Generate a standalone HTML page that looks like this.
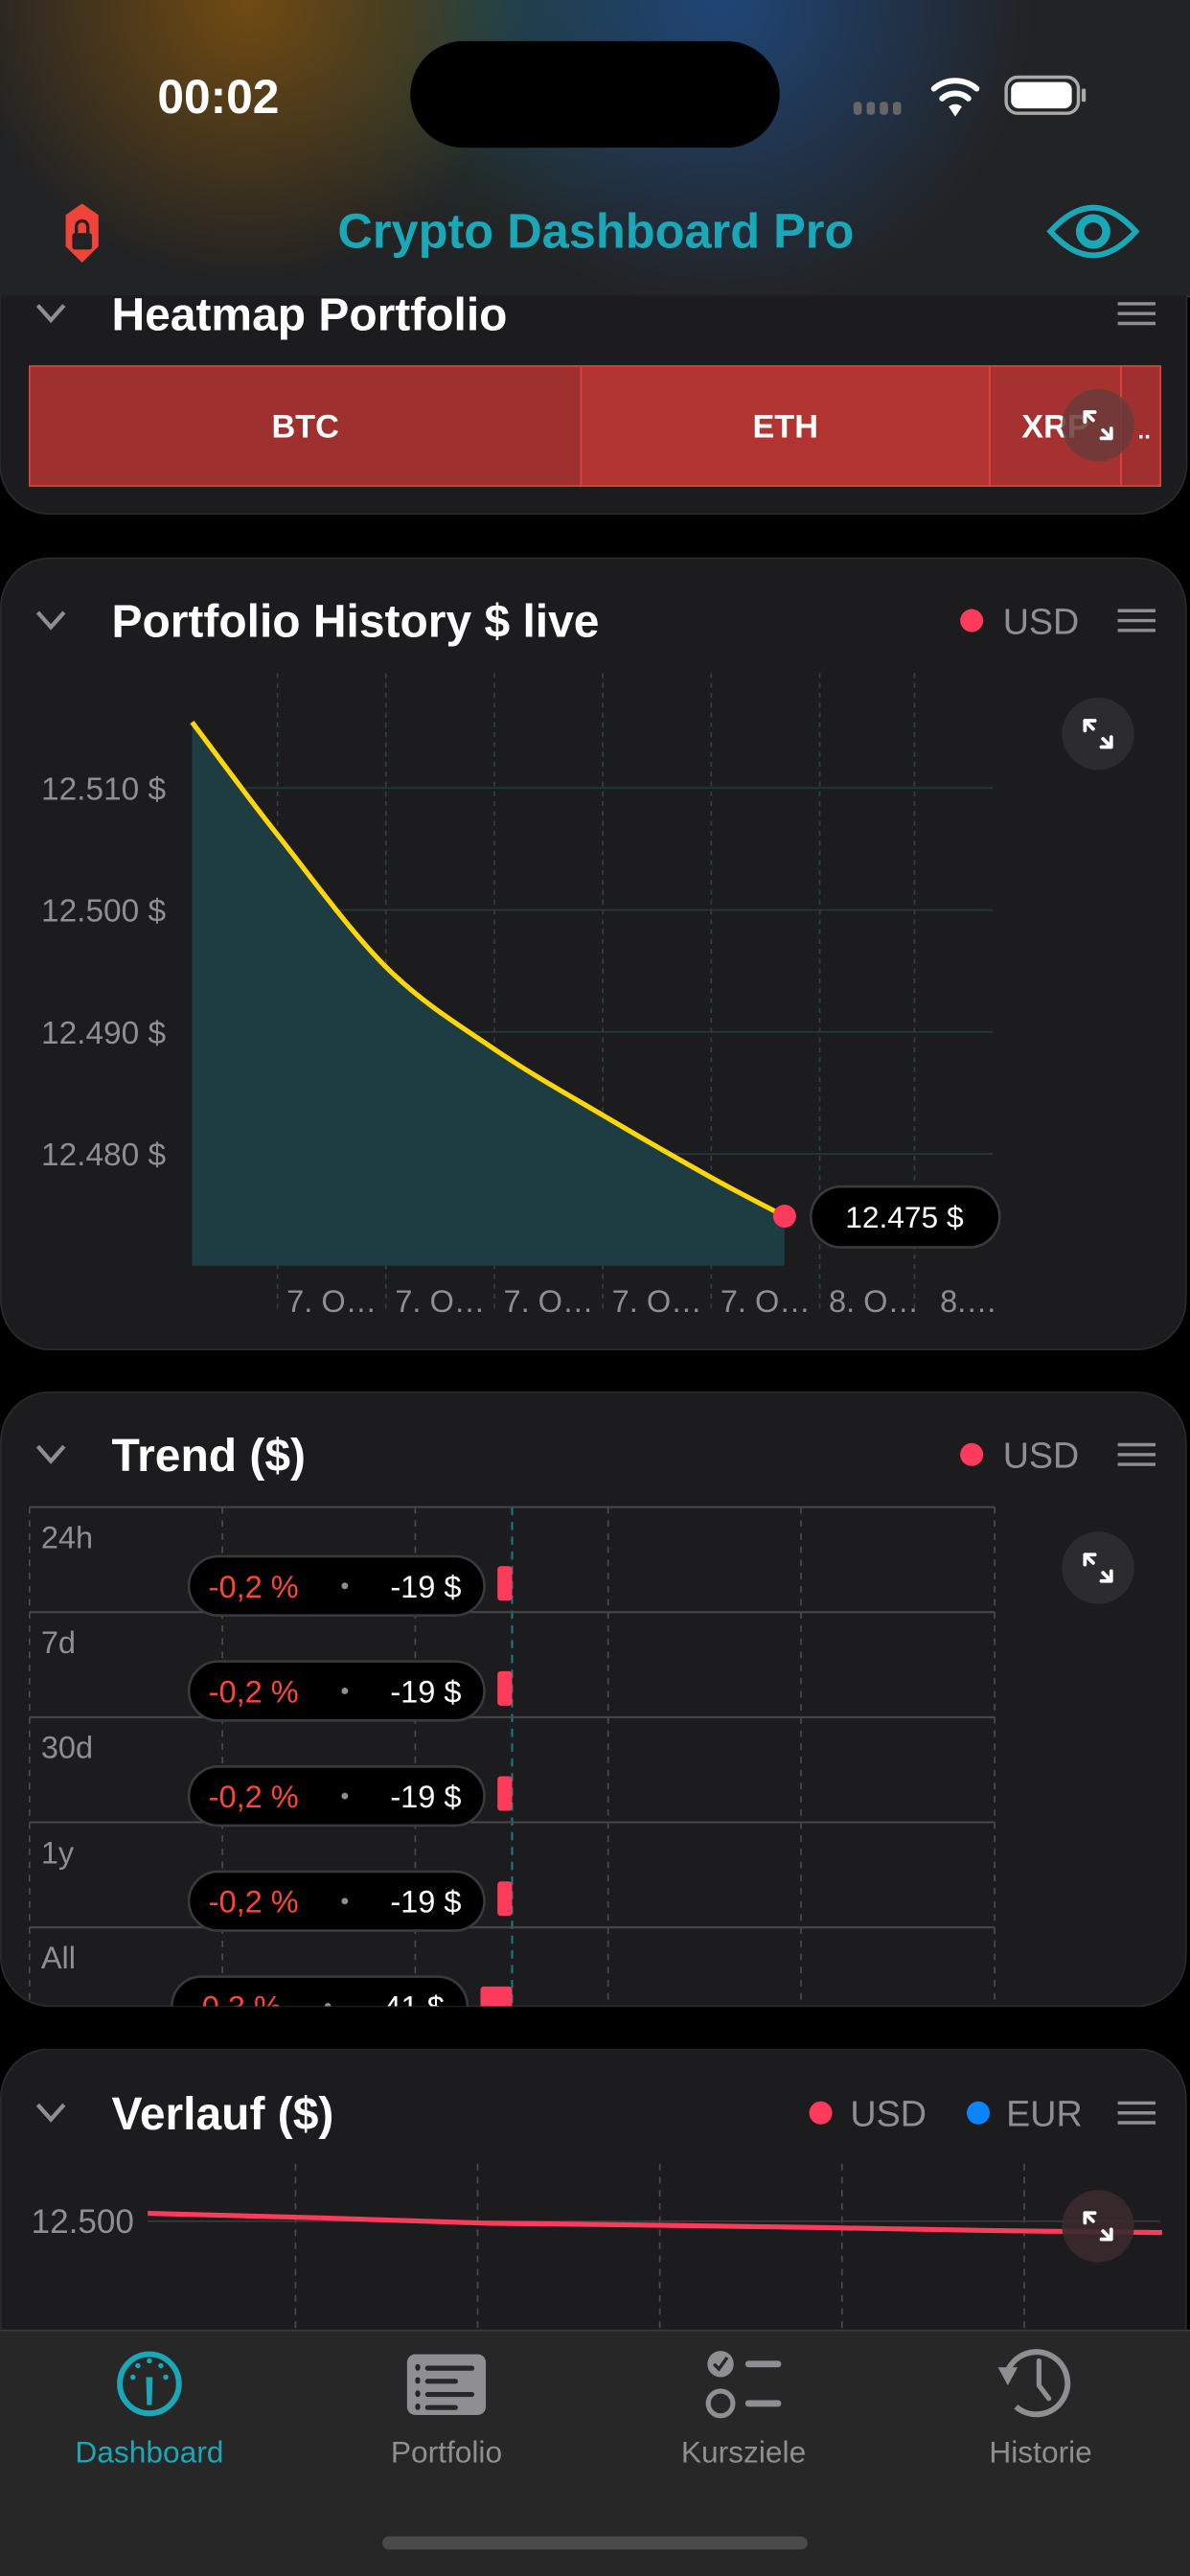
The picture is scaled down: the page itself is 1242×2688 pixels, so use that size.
<!DOCTYPE html>
<html><head><meta charset="utf-8">
<style>
html,body{margin:0;padding:0;background:#000;width:1242px;height:2688px;overflow:hidden}
svg{display:block}
text{font-family:"Liberation Sans",sans-serif}
</style></head>
<body>
<svg id="root" width="1242" height="2688" viewBox="0 0 725 1569.1" xmlns="http://www.w3.org/2000/svg">
<defs>
<radialGradient id="gO" cx="150" cy="0" r="170" gradientUnits="userSpaceOnUse"><stop offset="0" stop-color="#7a5010" stop-opacity="0.9"/><stop offset="1" stop-color="#7a5010" stop-opacity="0"/></radialGradient>
<radialGradient id="gB" cx="440" cy="0" r="190" gradientUnits="userSpaceOnUse"><stop offset="0" stop-color="#1f4a80" stop-opacity="0.9"/><stop offset="1" stop-color="#1f4a80" stop-opacity="0"/></radialGradient>
<radialGradient id="gG" cx="300" cy="0" r="150" gradientUnits="userSpaceOnUse"><stop offset="0" stop-color="#1f5040" stop-opacity="0.6"/><stop offset="1" stop-color="#1f5040" stop-opacity="0"/></radialGradient>
<clipPath id="c1"><rect x="0" y="180" width="725" height="134"/></clipPath>
<clipPath id="c3"><rect x="0" y="848" width="725" height="374" rx="30"/></clipPath>
<clipPath id="c4"><rect x="0" y="1248" width="725" height="171"/></clipPath>
</defs>
<rect width="725" height="1569.1" fill="#000"/>
<rect x="0" y="0" width="725" height="180" fill="#222324"/>
<rect x="0" y="0" width="725" height="180" fill="url(#gG)"/>
<rect x="0" y="0" width="725" height="180" fill="url(#gO)"/>
<rect x="0" y="0" width="725" height="180" fill="url(#gB)"/>
<text x="133" y="69" font-size="29" font-weight="bold" fill="#fff" text-anchor="middle">00:02</text>
<rect x="250" y="25" width="225" height="65" rx="32.5" fill="#000"/>
<g fill="#666"><rect x="520" y="62" width="5" height="8" rx="2"/><rect x="528" y="62" width="5" height="8" rx="2"/><rect x="536" y="62" width="5" height="8" rx="2"/><rect x="544" y="62" width="5" height="8" rx="2"/></g>
<g fill="none" stroke="#fff" stroke-width="3.5" stroke-linecap="round"><path d="M569 54 A20 20 0 0 1 595 54"/><path d="M574 60 A12 12 0 0 1 590 60"/><path d="M582 71 L578 65 A6 6 0 0 1 586 65 Z" fill="#fff" stroke="none"/></g>
<g><rect x="613" y="47" width="44" height="22" rx="7" fill="none" stroke="#aaa" stroke-width="2"/><rect x="616" y="50" width="37" height="16" rx="4.5" fill="#fff"/><rect x="659" y="54" width="2.5" height="8" rx="1" fill="#aaa"/></g>
<g><path d="M50 124 L60 131 L60 150 L50 160 L40 150 L40 131 Z" fill="#f0443a"/><rect x="44" y="142" width="12" height="10" rx="1.5" fill="#222"/><path d="M46.5 142 V138 A3.5 3.5 0 0 1 53.5 138 V142" fill="none" stroke="#222" stroke-width="2"/></g>
<text x="363" y="151" font-size="29.5" font-weight="bold" fill="#1aa8b8" text-anchor="middle">Crypto Dashboard Pro</text>
<g><path d="M640 141 Q666 112 692 141 Q666 170 640 141 Z" fill="none" stroke="#1aa8b8" stroke-width="3.5"/><circle cx="666" cy="141" r="8" fill="none" stroke="#1aa8b8" stroke-width="5"/></g>
<line x1="0" y1="180.5" x2="725" y2="180.5" stroke="#3a3a3c" stroke-width="1"/>

<g clip-path="url(#c1)">
<rect x="0" y="120" width="723" height="193" rx="30" fill="#1c1c1e" stroke="#2a2a2c"/>
<path d="M23 186 L31 195 L39 186" fill="none" stroke="#8e8e93" stroke-width="2.5"/>
<text x="68" y="201" font-size="28" font-weight="bold" fill="#fff">Heatmap Portfolio</text>
<g stroke="#8e8e93" stroke-width="2"><line x1="681" y1="185" x2="704" y2="185"/><line x1="681" y1="191" x2="704" y2="191"/><line x1="681" y1="197" x2="704" y2="197"/></g>
<g id="heat"></g>
<circle cx="669" cy="259" r="22" fill="#6a3a3a" opacity="0.85"/>
<g stroke="#fff" stroke-width="2.2" fill="none" stroke-linecap="round"><path d="M661 251 L666 256 M661 251 v6 M661 251 h6 M677 267 L672 262 M677 267 v-6 M677 267 h-6"/></g>
</g>

<g>
<rect x="0.5" y="340" width="722" height="482" rx="30" fill="#1c1c1e" stroke="#2a2a2c"/>
<path d="M23 373 L31 382 L39 373" fill="none" stroke="#8e8e93" stroke-width="2.5"/>
<text x="68" y="388" font-size="28" font-weight="bold" fill="#fff">Portfolio History $ live</text>
<circle cx="592" cy="378" r="7" fill="#ff3b5c"/>
<text x="611" y="386" font-size="22" fill="#8e8e93">USD</text>
<g stroke="#8e8e93" stroke-width="2"><line x1="681" y1="372" x2="704" y2="372"/><line x1="681" y1="378" x2="704" y2="378"/><line x1="681" y1="384" x2="704" y2="384"/></g>
<g id="hist"></g>
<circle cx="669" cy="447" r="22" fill="#2c2c2e"/>
<g stroke="#fff" stroke-width="2.2" fill="none" stroke-linecap="round"><path d="M661 439 L666 444 M661 439 v6 M661 439 h6 M677 455 L672 450 M677 455 v-6 M677 455 h-6"/></g>
</g>

<g>
<rect x="0.5" y="848" width="722" height="374" rx="30" fill="#1c1c1e" stroke="#2a2a2c"/>
<path d="M23 881 L31 890 L39 881" fill="none" stroke="#8e8e93" stroke-width="2.5"/>
<text x="68" y="896" font-size="28" font-weight="bold" fill="#fff">Trend ($)</text>
<circle cx="592" cy="886" r="7" fill="#ff3b5c"/>
<text x="611" y="894" font-size="22" fill="#8e8e93">USD</text>
<g stroke="#8e8e93" stroke-width="2"><line x1="681" y1="880" x2="704" y2="880"/><line x1="681" y1="886" x2="704" y2="886"/><line x1="681" y1="892" x2="704" y2="892"/></g>
<g id="trend" clip-path="url(#c3)"></g>
<circle cx="669" cy="955" r="22" fill="#2c2c2e"/>
<g stroke="#fff" stroke-width="2.2" fill="none" stroke-linecap="round"><path d="M661 947 L666 952 M661 947 v6 M661 947 h6 M677 963 L672 958 M677 963 v-6 M677 963 h-6"/></g>
</g>

<g clip-path="url(#c4)">
<rect x="0.5" y="1248" width="722" height="260" rx="30" fill="#1c1c1e" stroke="#2a2a2c"/>
<path d="M23 1282 L31 1291 L39 1282" fill="none" stroke="#8e8e93" stroke-width="2.5"/>
<text x="68" y="1297" font-size="28" font-weight="bold" fill="#fff">Verlauf ($)</text>
<circle cx="500" cy="1287" r="7" fill="#ff3b5c"/>
<text x="518" y="1295" font-size="22" fill="#8e8e93">USD</text>
<circle cx="596" cy="1287" r="7" fill="#0a84ff"/>
<text x="613" y="1295" font-size="22" fill="#8e8e93">EUR</text>
<g stroke="#8e8e93" stroke-width="2"><line x1="681" y1="1281" x2="704" y2="1281"/><line x1="681" y1="1287" x2="704" y2="1287"/><line x1="681" y1="1293" x2="704" y2="1293"/></g>
<g id="verl"></g>
<circle cx="669" cy="1356" r="22" fill="#3a2a2c" opacity="0.9"/>
<g stroke="#fff" stroke-width="2.2" fill="none" stroke-linecap="round"><path d="M661 1348 L666 1353 M661 1348 v6 M661 1348 h6 M677 1364 L672 1359 M677 1364 v-6 M677 1364 h-6"/></g>
</g>

<g>
<rect x="0" y="1419" width="725" height="150.1" fill="#272727"/>
<line x1="0" y1="1419.5" x2="725" y2="1419.5" stroke="#3a3a3c"/>
<g>
<circle cx="91" cy="1452" r="18" fill="none" stroke="#1aa8b8" stroke-width="3.5"/>
<path d="M89 1448 L93 1448 L92.5 1465 L89.5 1465 Z" fill="#1aa8b8"/>
<g fill="#1aa8b8"><circle cx="81" cy="1448" r="1.6"/><circle cx="84" cy="1441" r="1.6"/><circle cx="91" cy="1438" r="1.6"/><circle cx="98" cy="1441" r="1.6"/><circle cx="101" cy="1448" r="1.6"/></g>
<text x="91" y="1500" font-size="18.5" fill="#1aa8b8" text-anchor="middle">Dashboard</text></g>
<g>
<rect x="248" y="1434" width="48" height="37" rx="5" fill="#8e8e93"/>
<g fill="#272727"><rect x="253" y="1440" width="3" height="4" rx="1.5"/><rect x="259" y="1441" width="30" height="3" rx="1.5"/><rect x="253" y="1448" width="3" height="4" rx="1.5"/><rect x="259" y="1449" width="20" height="3" rx="1.5"/><rect x="253" y="1456" width="3" height="4" rx="1.5"/><rect x="259" y="1457" width="30" height="3" rx="1.5"/><rect x="253" y="1464" width="3" height="4" rx="1.5"/><rect x="259" y="1465" width="20" height="3" rx="1.5"/></g>
<text x="272" y="1500" font-size="18.5" fill="#8e8e93" text-anchor="middle">Portfolio</text></g>
<g>
<circle cx="439" cy="1440" r="8" fill="#8e8e93"/><path d="M435 1440 l3 3 l5 -7" stroke="#272727" stroke-width="2" fill="none"/>
<circle cx="439" cy="1464" r="7.5" fill="none" stroke="#8e8e93" stroke-width="3"/>
<rect x="454" y="1438" width="22" height="4" rx="2" fill="#8e8e93"/><rect x="454" y="1462" width="22" height="4" rx="2" fill="#8e8e93"/>
<text x="453" y="1500" font-size="18.5" fill="#8e8e93" text-anchor="middle">Kursziele</text></g>
<g>
<path d="M614 1444 A19 19 0 1 1 619 1466" fill="none" stroke="#8e8e93" stroke-width="3.5"/>
<path d="M608 1442 L620 1442 L614 1453 Z" fill="#8e8e93"/>
<path d="M633 1438 L633 1453 L639 1461" fill="none" stroke="#8e8e93" stroke-width="3" stroke-linecap="round"/>
<text x="634" y="1500" font-size="18.5" fill="#8e8e93" text-anchor="middle">Historie</text></g>
<rect x="233" y="1545" width="259" height="8" rx="4" fill="#4a4a4a"/>
</g>
</svg>

<script>
const NS='http://www.w3.org/2000/svg';
function mk(p,tag,attrs,txt){const e=document.createElementNS(NS,tag);for(const k in attrs)e.setAttribute(k,attrs[k]);if(txt!==undefined)e.textContent=txt;p.appendChild(e);return e;}

// ---- Heatmap data ----
const heatSymbols=['BTC','ETH','XRP','other'];
const heatWeights=[336,249,80,24];
const heatColors=['#9e3030','#b23431','#a53230','#a03030'];
const heatLabels=['BTC','ETH','XRP',''];

// ---- Portfolio history data ----
const histTimes=[0,1.47,3.3,5.13,6.96,8.79,10];
const histValues=[12.5154,12.5060,12.4952,12.4885,12.4831,12.4780,12.4749];
const histYTicks=[12.510,12.500,12.490,12.480];
const histYTickLabels=['12.510 $','12.500 $','12.490 $','12.480 $'];
const histXTicks=[1.47,3.3,5.13,6.96,8.79,10.62,12.22];
const histXTickLabels=['7. O…','7. O…','7. O…','7. O…','7. O…','8. O…','8.…'];
const histLastLabel='12.475 $';

// ---- Trend data ----
const trendPeriods=['24h','7d','30d','1y','All'];
const trendPct=['-0,2 %','-0,2 %','-0,2 %','-0,2 %','-0,3 %'];
const trendUsd=[-19,-19,-19,-19,-41];

// ---- Verlauf data ----
const verlTimes=[0,1,2,3,4,5,6];
const verlUsd=[12.516,12.507,12.496,12.492,12.487,12.481,12.477];
const verlYTicks=[12.500,12.250];
const verlYTickLabels=['12.500','12.250'];

(function(){
  const g=document.getElementById('heat');
  const x0=18,x1=707,y0=223,h=73;
  const tot=heatWeights.reduce((a,b)=>a+b,0);
  let x=x0;
  heatWeights.forEach((w,i)=>{
    const wd=w/tot*(x1-x0);
    const r=mk(g,'rect',{x:x,y:y0,width:wd,height:h,fill:heatColors[i],stroke:'#e04040','stroke-width':1});
    
    
    if(heatLabels[i]){const t=mk(g,'text',{x:x+wd/2,y:y0+h/2+7,'font-size':20,'font-weight':'bold',fill:'#fff','text-anchor':'middle'},heatLabels[i]);
      
      }
    x+=wd;
  });
  mk(g,'text',{x:701,y:267,'font-size':14,'font-weight':'bold',fill:'#fff','text-anchor':'end'},'..');
})();

(function(){
  const g=document.getElementById('hist');
  const xs=t=>117+t*36.1;
  const ys=v=>480+(12.510-v)*7430;
  const baseY=771;
  histYTicks.forEach((v,i)=>{
    mk(g,'line',{x1:117,x2:605,y1:ys(v),y2:ys(v),stroke:'#1f3a3a','stroke-width':1});
    const t=mk(g,'text',{x:101,y:ys(v)+7,'font-size':19.5,fill:'#8e8e93','text-anchor':'end'},histYTickLabels[i]);
    
    
  });
  histXTicks.forEach((v,i)=>{
    const x=xs(v)-1;
    mk(g,'line',{x1:x,x2:x,y1:410,y2:800,stroke:'#2e4040','stroke-width':1,'stroke-dasharray':'3,3'});
    const t=mk(g,'text',{x:x+33,y:799,'font-size':19,fill:'#8e8e93','text-anchor':'middle'},histXTickLabels[i]);
    
    
  });
  const pts=histTimes.map((t,i)=>[xs(t),ys(histValues[i])]);
  let d='M'+pts[0][0]+' '+pts[0][1];
  for(let i=0;i<pts.length-1;i++){
    const p0=pts[Math.max(0,i-1)],p1=pts[i],p2=pts[i+1],p3=pts[Math.min(pts.length-1,i+2)];
    const c1=[p1[0]+(p2[0]-p0[0])/6,p1[1]+(p2[1]-p0[1])/6];
    const c2=[p2[0]-(p3[0]-p1[0])/6,p2[1]-(p3[1]-p1[1])/6];
    d+=' C'+c1[0]+' '+c1[1]+' '+c2[0]+' '+c2[1]+' '+p2[0]+' '+p2[1];
  }
  const last=pts[pts.length-1];
  const area=mk(g,'path',{d:d+' L'+last[0]+' '+baseY+' L'+pts[0][0]+' '+baseY+' Z',fill:'#1d3d42'});
  
  
  const line=mk(g,'path',{d:d,fill:'none',stroke:'#ffd60a','stroke-width':3});
  
  
  const dot=mk(g,'circle',{cx:last[0],cy:last[1],r:7,fill:'#ff3b5c'});
  
  
  const pill=mk(g,'rect',{x:last[0]+16,y:last[1]-18,width:115,height:37,rx:18.5,fill:'#000',stroke:'#3a3a3c','stroke-width':1.5});
  
  
  mk(g,'text',{x:last[0]+73,y:last[1]+7,'font-size':18.5,fill:'#fff','text-anchor':'middle'},histLastLabel);
})();

(function(){
  const g=document.getElementById('trend');
  const x0=312, sc=0.47, top=918, rowH=64;
  const vlines=[18,135.5,253,370.5,488,606];
  vlines.forEach(x=>mk(g,'line',{x1:x,x2:x,y1:top,y2:1230,stroke:'#4a4a4c','stroke-width':1,'stroke-dasharray':'4,4'}));
  mk(g,'line',{x1:x0,x2:x0,y1:top,y2:1230,stroke:'#1a7a88','stroke-width':1.2,'stroke-dasharray':'5,4'});
  for(let i=0;i<trendPeriods.length;i++){
    mk(g,'line',{x1:18,x2:606,y1:top+i*rowH,y2:top+i*rowH,stroke:'#48484a','stroke-width':1.2});
  }
  trendPeriods.forEach((p,i)=>{
    const ry=top+i*rowH;
    const l=mk(g,'text',{x:25,y:ry+25,'font-size':19,fill:'#8e8e93'},p);
    
    
    const bw=-trendUsd[i]*sc;
    const bar=mk(g,'rect',{x:x0-bw,y:ry+36,width:bw,height:21,rx:2,fill:'#ff3b5c'});
    
    
    const pr=x0-bw-8, pl=pr-180, cy=ry+48;
    const pill=mk(g,'rect',{x:pl,y:cy-18,width:180,height:36,rx:18,fill:'#000',stroke:'#3a3a3c','stroke-width':1.5});
    
    
    mk(g,'text',{x:pl+12,y:cy+7,'font-size':19,fill:'#ff453a'},trendPct[i]);
    mk(g,'circle',{cx:pl+95,cy:cy,r:2,fill:'#8e8e93'});
    mk(g,'text',{x:pr-14,y:cy+7,'font-size':19,fill:'#fff','text-anchor':'end'},trendUsd[i]+' $');
  });
})();

(function(){
  const g=document.getElementById('verl');
  const xs=t=>90+t*103;
  const ys=v=>1353+(12.500-v)*300;
  [180,291,402,513,624].forEach(x=>mk(g,'line',{x1:x,x2:x,y1:1318,y2:1420,stroke:'#4a4a4c','stroke-width':1,'stroke-dasharray':'4,4'}));
  verlYTicks.forEach((v,i)=>{
    mk(g,'line',{x1:90,x2:707,y1:ys(v),y2:ys(v),stroke:'#3a3a3c','stroke-width':1});
    const t=mk(g,'text',{x:19,y:ys(v)+7,'font-size':20.5,fill:'#8e8e93'},verlYTickLabels[i]);
    
    
  });
  const d=verlTimes.map((t,i)=>(i?'L':'M')+xs(t)+' '+ys(verlUsd[i])).join(' ');
  const p=mk(g,'path',{d:d,fill:'none',stroke:'#ff3b5c','stroke-width':3,'stroke-linejoin':'round'});
  
  
})();
</script>
</body></html>
